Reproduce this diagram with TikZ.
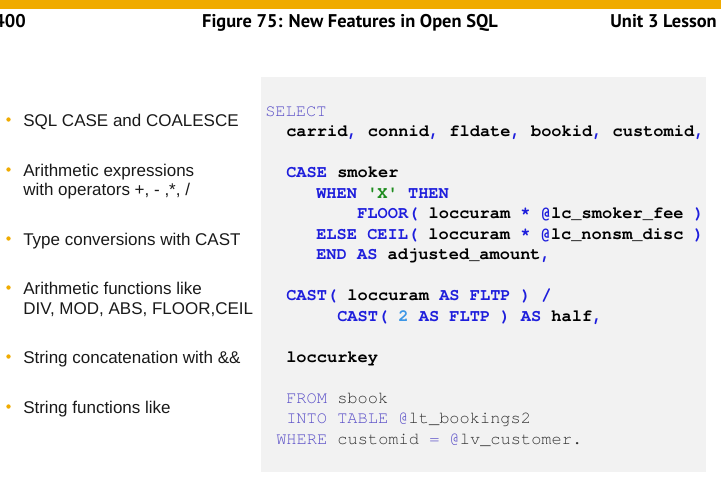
\documentclass[tikz,border=0pt]{standalone}
\usepackage{fontspec}
\setmainfont{Liberation Sans}
\setmonofont{texgyrecursor}[Extension=.otf, UprightFont=*-regular, BoldFont=*-bold, Ligatures=NoCommon]
\newfontfamily\headfont{PT Sans}
\usetikzlibrary{positioning}

\definecolor{sapgold}{HTML}{F0AB00}
\definecolor{codebg}{HTML}{F2F2F2}
\definecolor{kwblue}{HTML}{1E1EDC}
\definecolor{kwlight}{HTML}{5B50C8}
\definecolor{strgreen}{HTML}{1E8C1E}
\definecolor{numblue}{HTML}{3C96E6}
\definecolor{idgray}{HTML}{333333}

\newcommand{\kw}[1]{\textcolor{kwblue}{#1}}
\newcommand{\kwl}[1]{\textcolor{kwlight}{#1}}

\tikzset{
  header/.style={anchor=base, inner sep=0pt, font=\headfont\bfseries\fontsize{13.8pt}{16pt}\selectfont},
  item/.style={anchor=base west, inner sep=0pt, text=black!90, font=\fontsize{12.75pt}{15pt}\selectfont},
  code/.style={anchor=base west, inner sep=0pt, text=black, font=\ttfamily\bfseries\fontsize{12.75pt}{15pt}\selectfont},
  codelight/.style={anchor=base west, inner sep=0pt, text=idgray, font=\ttfamily\fontsize{12.75pt}{15pt}\selectfont}
}

\begin{document}
\begin{tikzpicture}[x=0.75pt, y=-0.75pt]
    \useasboundingbox (0,0) rectangle (721,483);
    \clip (0,0) rectangle (721,483);

    % header
    \fill[sapgold] (0,0) rectangle (721,9);
    \node[header, anchor=base east] (page) at (26,27.5) {400};
    \node[header] (title) at (350,27.5) {Figure 75: New Features in Open SQL};
    \node[header, anchor=base east] (unit) at (717,27.5) {Unit 3 Lesson};

    % feature list
    \node[item] (case)   at (23,126) {SQL CASE and COALESCE};
    \node[item] (arith)  at (23,176) {Arithmetic expressions};
    \node[item] (arith2) at (23,195) {with operators +, - ,*, /};
    \node[item] (cast)   at (23,245) {Type conversions with CAST};
    \node[item] (func)   at (23,294) {Arithmetic functions like};
    \node[item] (func2)  at (23,314) {DIV, MOD, ABS, FLOOR,CEIL};
    \node[item] (concat) at (23,363) {String concatenation with \&\&};
    \node[item] (strfn)  at (23,413) {String functions like};
    \foreach \n in {case,arith,cast,func,concat,strfn}
        \fill[sapgold] ([shift={(-14.5,-6.5)}]\n.base west) circle (2.2);

    % code panel
    \fill[codebg] (261,77) rectangle (706,472);
    \node[codelight] (select) at (265,116) {\kwl{SELECT}};
    \node[code] (fields) at (286,136.5) {carrid\kw{,} connid\kw{,} fldate\kw{,} bookid\kw{,} customid\kw{,}};
    \node[code] (casel)  at (286,177.5) {\kw{CASE} smoker};
    \node[code] (when)   at (316,198) {\kw{WHEN} \textcolor{strgreen}{'X'} \kw{THEN}};
    \node[code] (floor)  at (357,218.5) {\kw{FLOOR(} loccuram \kw{*} \kw{@}lc\_smoker\_fee \kw{)}};
    \node[code] (else)   at (316,239) {\kw{ELSE CEIL(} loccuram \kw{*} \kw{@}lc\_nonsm\_disc \kw{)}};
    \node[code] (endas)  at (316,259.5) {\kw{END AS} adjusted\_amount\kw{,}};
    \node[code] (cast1)  at (286,300.5) {\kw{CAST(} loccuram \kw{AS FLTP ) /}};
    \node[code] (cast2)  at (337,321) {\kw{CAST(} \textcolor{numblue}{2} \kw{AS FLTP ) AS} half\kw{,}};
    \node[code] (key)    at (286,362) {loccurkey};
    \node[codelight] (from)  at (286,403) {\kwl{FROM} sbook};
    \node[codelight] (into)  at (286,423.5) {\kwl{INTO TABLE} \kwl{@}lt\_bookings2};
    \node[codelight] (where) at (276,444) {\kwl{WHERE} customid \kwl{=} \kwl{@}lv\_customer.};
\end{tikzpicture}
\end{document}
